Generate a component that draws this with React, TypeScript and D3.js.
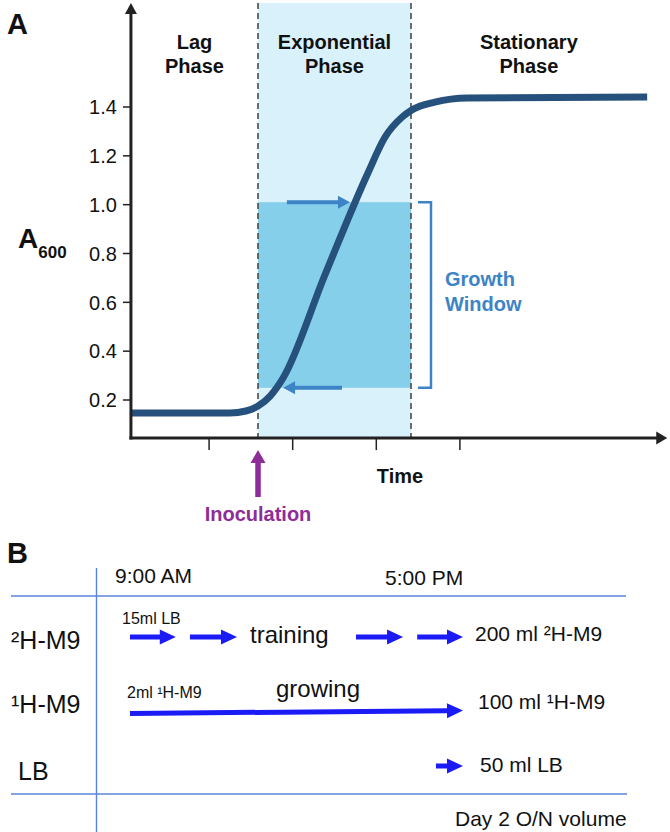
import React from "react";
import * as d3 from "d3";

// ---------- Panel A data ----------
const Y_TICKS = [0.2, 0.4, 0.6, 0.8, 1.0, 1.2, 1.4];
const TIME_TICKS = [2, 4, 6, 8];
const CURVE_T = [0.13, 2.5, 2.88, 3.17, 3.46, 3.77, 4.77, 5.8, 6.21, 6.62, 6.85, 7.4, 8.19, 12.48];
const CURVE_A = [0.147, 0.147, 0.155, 0.175, 0.216, 0.29, 0.712, 1.13, 1.277, 1.359, 1.388, 1.42, 1.437, 1.441];
const PHASE_NAMES = [["Lag", "Phase"], ["Exponential", "Phase"], ["Stationary", "Phase"]];
const PHASE_BOUNDS = [0.13, 3.17, 6.83, 12.47];
const GROWTH_WINDOW = [0.25, 1.01];
const WINDOW_ARROW_UP = [3.86, 5.37]; // at upper limit, pointing right
const WINDOW_ARROW_DOWN = [5.18, 3.77]; // at lower limit, pointing left
const INOCULATION_T = 3.17;
const AXIS_T = [0.13, 12.96];
const AXIS_A = [0.044, 1.826];

// ---------- Panel B data ----------
const CLOCK_HOURS = [9, 17];
const CLOCK_LABELS = ["9:00 AM", "5:00 PM"];
const ROW_LABELS = ["²H-M9", "¹H-M9", "LB"];
const ROW_SEGMENTS = [
  [[9, 10.1], [10.44, 11.57], [14.43, 15.56], [15.9, 17]],
  [[9, 17]],
  [[16.35, 17]],
];
const ROW_VOLUMES = ["200 ml ²H-M9", "100 ml ¹H-M9", "50 ml LB"];
const ROW_START_NOTES = ["15ml LB", "2ml ¹H-M9", ""];
const ROW_ACTIVITIES = ["training", "growing", ""];
const FOOTER = "Day 2 O/N volume";

const FONT = "'Liberation Sans', Arial, Helvetica, sans-serif";

function arrowPath(x1: number, y1: number, x2: number, y2: number, shaftW: number, headL: number, headW: number) {
  const dx = x2 - x1, dy = y2 - y1;
  const len = Math.hypot(dx, dy);
  const ux = dx / len, uy = dy / len;
  const px = -uy, py = ux;
  const bx = x2 - ux * headL, by = y2 - uy * headL;
  const s = shaftW / 2, h = headW / 2;
  const pts = [
    [x1 + px * s, y1 + py * s],
    [bx + px * s, by + py * s],
    [bx + px * h, by + py * h],
    [x2, y2],
    [bx - px * h, by - py * h],
    [bx - px * s, by - py * s],
    [x1 - px * s, y1 - py * s],
  ];
  return "M" + pts.map((p) => p[0].toFixed(2) + "," + p[1].toFixed(2)).join("L") + "Z";
}

export default function App() {
  const x = d3.scaleLinear().domain([0, 13]).range([125.5, 125.5 + 13 * 41.8]);
  const y = d3.scaleLinear().domain([0.2, 1.4]).range([400, 107]);

  const curvePts: [number, number][] = CURVE_T.map((t, i) => [t, CURVE_A[i]]);
  const line = d3
    .line<[number, number]>()
    .x((d) => x(d[0]))
    .y((d) => y(d[1]))
    .curve(d3.curveMonotoneX);

  const axisX0 = x(AXIS_T[0]);
  const axisX1 = x(AXIS_T[1]);
  const axisY0 = y(AXIS_A[0]);
  const axisY1 = y(AXIS_A[1]);

  const expX0 = x(PHASE_BOUNDS[1]);
  const expX1 = x(PHASE_BOUNDS[2]);

  const aBlue = "#3d84c6";
  const navy = "#26517c";
  const purple = "#8e2d97";

  // Panel B scales
  const hx = d3.scaleLinear().domain(CLOCK_HOURS).range([130, 463]);
  const rowY = [637, 712, 766];
  const bLine = "#5a84d8";
  const bArrow = "#1b1bf5";

  return (
    <svg
      width={670}
      height={832}
      style={{ position: "absolute", left: 0, top: 0, background: "#fff" }}
      fontFamily={FONT}
    >
      {/* ---------- Panel A ---------- */}
      <text x={7} y={34} fontSize={29} fontWeight="bold" fill="#111">A</text>

      {/* exponential phase background */}
      <rect x={expX0} y={axisY1} width={expX1 - expX0} height={axisY0 - axisY1} fill="#d9f1fb" />
      {/* growth window */}
      <rect
        x={expX0}
        y={y(GROWTH_WINDOW[1])}
        width={expX1 - expX0}
        height={y(GROWTH_WINDOW[0]) - y(GROWTH_WINDOW[1])}
        fill="#86cfeb"
      />
      {/* dashed phase boundaries */}
      {[PHASE_BOUNDS[1], PHASE_BOUNDS[2]].map((t, i) => (
        <line key={i} x1={x(t)} x2={x(t)} y1={axisY1} y2={axisY0} stroke="#4a4a4a" strokeWidth={1.6} strokeDasharray="6,4" />
      ))}

      {/* phase labels */}
      {PHASE_NAMES.map((lines, i) => {
        const cx = x((PHASE_BOUNDS[i] + PHASE_BOUNDS[i + 1]) / 2);
        return (
          <text key={i} x={cx} textAnchor="middle" fontSize={20} fontWeight="bold" fill="#111">
            <tspan x={cx} y={49}>{lines[0]}</tspan>
            <tspan x={cx} y={73}>{lines[1]}</tspan>
          </text>
        );
      })}

      {/* growth window arrows */}
      <path
        d={arrowPath(x(WINDOW_ARROW_UP[0]), y(GROWTH_WINDOW[1]), x(WINDOW_ARROW_UP[1]), y(GROWTH_WINDOW[1]), 4, 12, 13)}
        fill={aBlue}
      />
      <path
        d={arrowPath(x(WINDOW_ARROW_DOWN[0]), y(GROWTH_WINDOW[0]), x(WINDOW_ARROW_DOWN[1]), y(GROWTH_WINDOW[0]), 4, 12, 13)}
        fill={aBlue}
      />

      {/* growth curve */}
      <path d={line(curvePts) || ""} fill="none" stroke={navy} strokeWidth={7} strokeLinecap="butt" strokeLinejoin="round" />

      {/* bracket */}
      <path
        d={`M${expX1 + 7},${y(GROWTH_WINDOW[1])}H${expX1 + 20}V${y(GROWTH_WINDOW[0])}H${expX1 + 7}`}
        fill="none"
        stroke={aBlue}
        strokeWidth={2.5}
      />
      <text fontSize={20} fontWeight="bold" fill={aBlue}>
        <tspan x={expX1 + 34} y={286}>Growth</tspan>
        <tspan x={expX1 + 34} y={311}>Window</tspan>
      </text>

      {/* axes */}
      <line x1={axisX0} x2={axisX0} y1={axisY0 + 1.5} y2={axisY1 + 9} stroke="#222" strokeWidth={3} />
      <path d={`M${axisX0 - 6},${axisY1 + 11}L${axisX0},${axisY1}L${axisX0 + 6},${axisY1 + 11}Z`} fill="#222" />
      <line x1={axisX0 - 1.5} x2={axisX1 - 9} y1={axisY0} y2={axisY0} stroke="#222" strokeWidth={3} />
      <path d={`M${axisX1 - 11},${axisY0 - 6.5}L${axisX1},${axisY0}L${axisX1 - 11},${axisY0 + 6.5}Z`} fill="#222" />

      {Y_TICKS.map((v) => (
        <g key={v}>
          <line x1={axisX0 - 8} x2={axisX0} y1={y(v)} y2={y(v)} stroke="#222" strokeWidth={1.5} />
          <text x={axisX0 - 14} y={y(v)} dy="0.36em" textAnchor="end" fontSize={20} fill="#111">
            {d3.format(".1f")(v)}
          </text>
        </g>
      ))}
      {TIME_TICKS.map((t) => (
        <line key={t} x1={x(t)} x2={x(t)} y1={axisY0} y2={axisY0 + 12} stroke="#222" strokeWidth={1.5} />
      ))}

      {/* axis labels */}
      <text x={18} y={248} fontSize={28} fontWeight="bold" fill="#111">
        A<tspan fontSize={17} dy={10}>600</tspan>
      </text>
      <text x={400} y={483} textAnchor="middle" fontSize={20} fontWeight="bold" fill="#111">Time</text>

      {/* inoculation */}
      <path d={arrowPath(x(INOCULATION_T), 497, x(INOCULATION_T), 450, 5.5, 13, 15)} fill={purple} />
      <text x={x(INOCULATION_T)} y={521} textAnchor="middle" fontSize={20} fontWeight="bold" fill={purple}>
        Inoculation
      </text>

      {/* ---------- Panel B ---------- */}
      <text x={7} y={563} fontSize={29} fontWeight="bold" fill="#111">B</text>

      <line x1={96.5} x2={96.5} y1={568} y2={832} stroke={bLine} strokeWidth={1.4} />
      <line x1={11} x2={626} y1={596} y2={596} stroke={bLine} strokeWidth={1.4} />
      <line x1={11} x2={627} y1={794} y2={794} stroke={bLine} strokeWidth={1.4} />

      <text x={115} y={583} fontSize={21} fill="#111">{CLOCK_LABELS[0]}</text>
      <text x={385} y={585} fontSize={21} fill="#111">{CLOCK_LABELS[1]}</text>

      {ROW_LABELS.map((lab, i) => (
        <text key={lab} x={i === 2 ? 18 : 11} y={[649, 713, 780][i]} fontSize={25} fill="#111">
          {lab}
        </text>
      ))}

      {ROW_SEGMENTS.map((segs, i) =>
        segs.map((s, j) => {
          const tilt = i === 1 ? 1.5 : 0;
          return (
            <path
              key={i + "-" + j}
              d={arrowPath(hx(s[0]), rowY[i] + tilt, hx(s[1]), rowY[i] - tilt, 5, 16, 15)}
              fill={bArrow}
            />
          );
        })
      )}

      <text x={122} y={624} fontSize={16} fill="#111">{ROW_START_NOTES[0]}</text>
      <text x={127} y={698} fontSize={16} fill="#111">{ROW_START_NOTES[1]}</text>
      <text x={250} y={643} fontSize={24} fill="#111">{ROW_ACTIVITIES[0]}</text>
      <text x={276} y={697} fontSize={24} fill="#111">{ROW_ACTIVITIES[1]}</text>

      <text x={475} y={641} fontSize={21} fill="#111">{ROW_VOLUMES[0]}</text>
      <text x={478} y={709} fontSize={21} fill="#111">{ROW_VOLUMES[1]}</text>
      <text x={480} y={772} fontSize={21} fill="#111">{ROW_VOLUMES[2]}</text>

      <text x={455} y={826} fontSize={21} fill="#111">{FOOTER}</text>
    </svg>
  );
}
